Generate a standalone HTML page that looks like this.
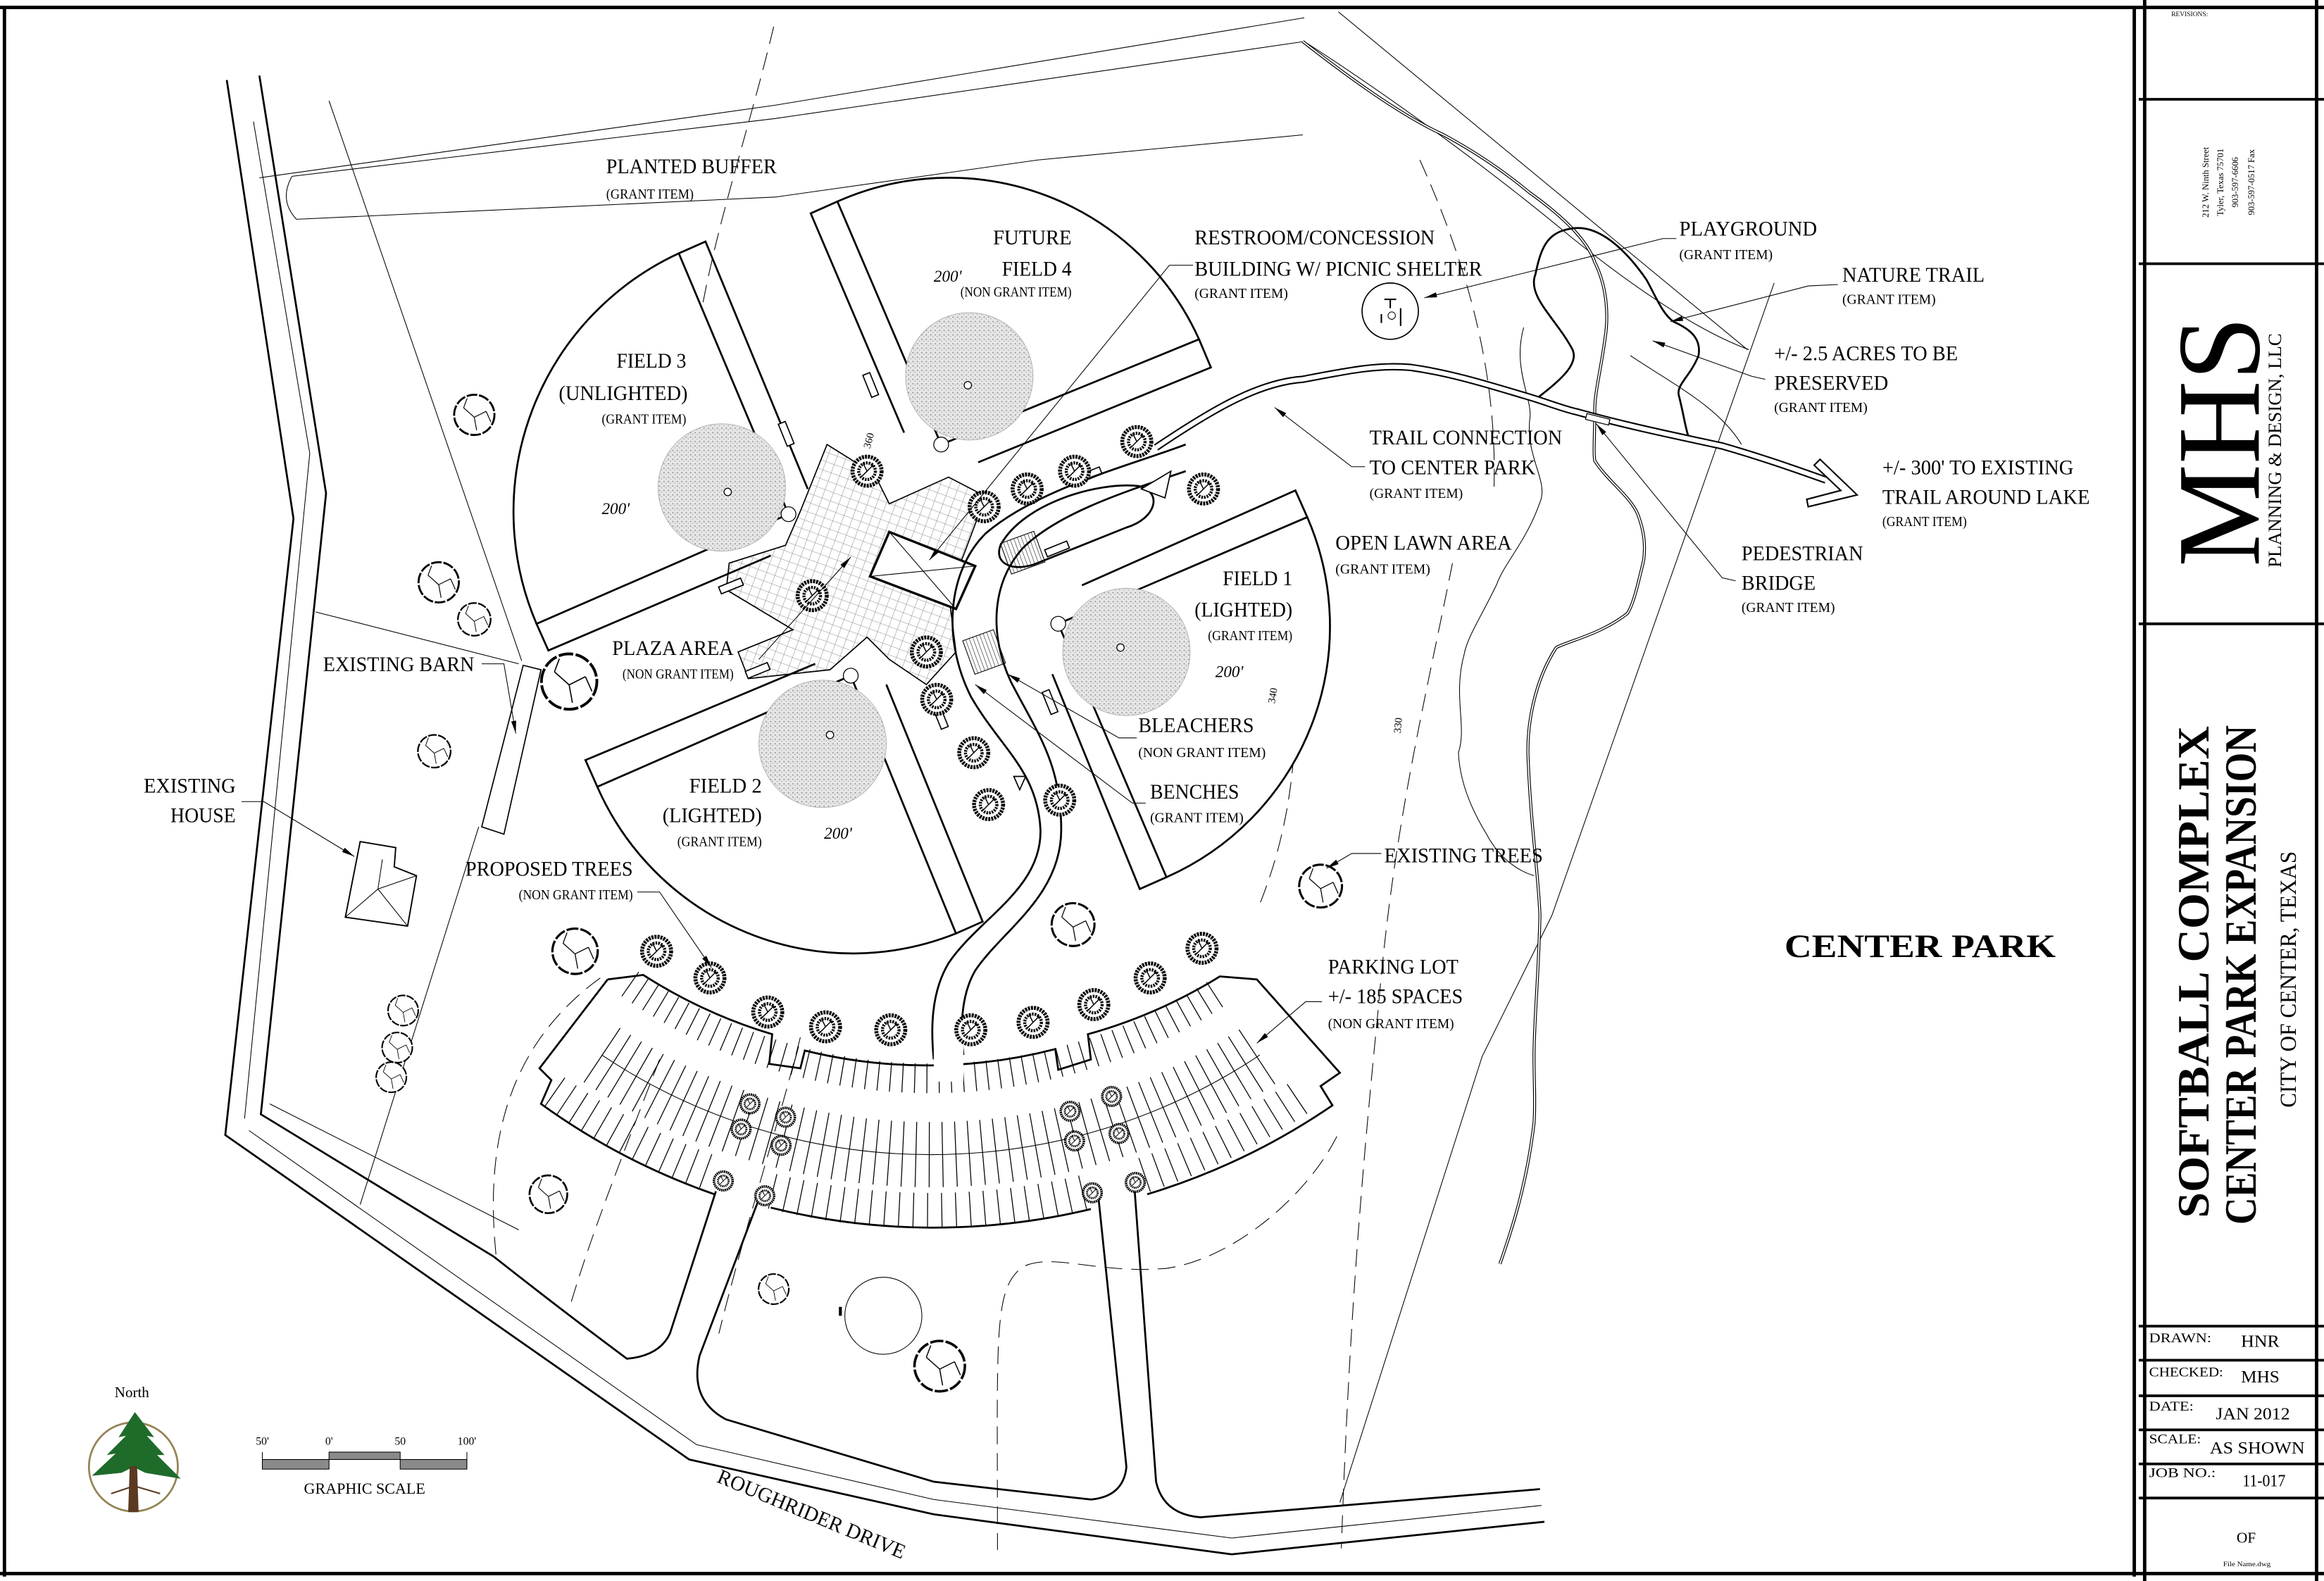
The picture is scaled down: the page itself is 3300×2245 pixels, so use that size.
<!DOCTYPE html>
<html><head><meta charset="utf-8"><style>
html,body{margin:0;padding:0;background:#fff}
svg{display:block}
text{font-family:"Liberation Serif","DejaVu Serif",serif;fill:#000}
.L{font-size:14px}
.s{font-size:9.5px}
.th{fill:none;stroke:#000;stroke-width:0.5}
.bd{fill:none;stroke:#000;stroke-width:1.3}
.ds{fill:none;stroke:#000;stroke-width:0.5;stroke-dasharray:12 6}
.ld{fill:none;stroke:#000;stroke-width:0.5;marker-end:url(#ar)}
</style></head><body>
<svg width="3300" height="2245" viewBox="0 0 1568 1067" preserveAspectRatio="none" xmlns="http://www.w3.org/2000/svg">
<defs>
<marker id="ar" viewBox="0 0 10 4" refX="10" refY="2" markerWidth="9" markerHeight="3.4" orient="auto" markerUnits="userSpaceOnUse"><path d="M0,0 L10,2 L0,4 Z" fill="#000"/></marker>
<pattern id="grid" width="6" height="6" patternUnits="userSpaceOnUse" patternTransform="rotate(20)"><rect width="6" height="6" fill="#fff"/><path d="M0,0H6M0,0V6" stroke="#888" stroke-width="0.5"/></pattern>
<pattern id="stip" width="3" height="3" patternUnits="userSpaceOnUse"><rect width="3" height="3" fill="#e6e6e6"/><circle cx="1" cy="1" r="0.45" fill="#888"/><circle cx="2.4" cy="2.2" r="0.35" fill="#999"/></pattern>
<pattern id="hat" width="2.5" height="10" patternUnits="userSpaceOnUse"><rect width="2.5" height="10" fill="#fff"/><path d="M0,0V10" stroke="#000" stroke-width="0.5"/></pattern>
<symbol id="et" viewBox="-20 -20 40 40" overflow="visible"><circle r="17" fill="#fff" stroke="#000" stroke-width="1.7" stroke-dasharray="9 1.5"/><path d="M0,2 L-9,-6 M0,2 L10,-3 M0,2 L2,13 M-9,-6 L-6,-14 M10,-3 L14,6" fill="none" stroke="#000" stroke-width="0.7"/></symbol>
<symbol id="pt" viewBox="-20 -20 40 40" overflow="visible"><circle r="14" fill="#fff" stroke="#000" stroke-width="3.8" stroke-dasharray="2 0.9"/><circle r="8" fill="none" stroke="#000" stroke-width="3" stroke-dasharray="1.6 1"/><path d="M-6,6 L0,0 L6,-6 M0,0 L-4,-8" stroke="#000" stroke-width="1" fill="none"/></symbol>
</defs>
<rect width="1568" height="1067" fill="#fff"/>

<path class="ds" d="M522,18 C505,90 480,160 470,230"/>
<path class="ds" d="M958,108 C995,190 1010,260 1008,330"/>
<path class="ds" d="M980,380 C960,480 940,560 930,680 C918,800 910,900 905,1045"/>
<path class="ds" d="M902,767 C880,810 830,850 787,856 C740,860 710,845 690,855 C670,870 673,900 673,1046"/>
<path class="ds" d="M405,660 C350,700 325,760 335,850"/>
<path class="ds" d="M445,715 C420,780 400,830 385,880"/>
<path class="ds" d="M870,420 C880,500 870,560 850,610"/>
<path class="ds" d="M540,700 C525,760 505,820 485,900"/>

<path class="bd" d="M153,54 L198,350 L152,766 L465,985 L630,1022 L831,1049 L1042,1027"/>
<path class="bd" d="M175,51 L220,333 L176,752 L333,848 Q380,885 423,917 Q445,915 452,900 L483,804"/>
<path class="bd" d="M514,804 L472,915 Q465,945 490,958 L630,1000 L736,1012 Q758,1010 760,990 L741,807"/>
<path class="bd" d="M765,796 L780,1000 Q785,1022 810,1024 L1039,1005"/>
<path class="th" d="M171,82 L209,306 L165,755"/>
<path class="th" d="M182,745 L350,830"/>
<path class="th" d="M168,763 L470,975 L630,1012 L831,1038 L1040,1016"/>
<path class="th" d="M222,68 L352,446"/>
<path class="th" d="M323,558 L243,813"/>
<path class="th" d="M175,120 L523,71 L880,12"/>
<path class="th" d="M903,8 L1179,236"/>
<path class="th" d="M1197,191 L1047,618 L1000,713 L904,1014"/>
<path class="th" d="M213,413 L350,448"/>

<path class="th" d="M197,119 L523,80 L880,28 C930,60 1000,110 1060,160 C1110,200 1150,225 1180,236 M197,119 Q188,135 200,148 L523,133 L700,108 L879,91"/>
<path class="th" d="M1028,221 C1020,250 1035,270 1032,284 C1030,310 1045,325 1039,339 C1030,365 1015,380 1010,394 C1000,415 990,430 988,441 C980,470 990,490 984,508 C985,530 995,550 1003,563 C1012,580 1025,588 1035,591"/>
<path class="th" d="M1100,240 C1130,260 1160,275 1175,300"/>

<path d="M879,28 C920,60 950,80 974,91 C1000,105 1020,120 1032,130 C1060,150 1072,165 1076,177 C1085,195 1085,215 1083,228 C1080,250 1076,265 1076,276 C1076,295 1075,305 1076,311 C1085,325 1100,335 1105,347 C1110,360 1110,370 1109,378 C1105,395 1102,408 1098,414 C1080,428 1060,432 1050,437 C1035,460 1030,490 1031,512 C1033,560 1038,590 1039,618 C1038,660 1035,690 1035,713 C1035,730 1036,745 1035,758 C1030,800 1020,830 1012,853" fill="none" stroke="#000" stroke-width="2"/>
<path d="M879,28 C920,60 950,80 974,91 C1000,105 1020,120 1032,130 C1060,150 1072,165 1076,177 C1085,195 1085,215 1083,228 C1080,250 1076,265 1076,276 C1076,295 1075,305 1076,311 C1085,325 1100,335 1105,347 C1110,360 1110,370 1109,378 C1105,395 1102,408 1098,414 C1080,428 1060,432 1050,437 C1035,460 1030,490 1031,512 C1033,560 1038,590 1039,618 C1038,660 1035,690 1035,713 C1035,730 1036,745 1035,758 C1030,800 1020,830 1012,853" fill="none" stroke="#fff" stroke-width="0.9"/>

<path class="bd" d="M1038,268 C1055,255 1065,245 1061,236 C1050,215 1030,200 1036,185 C1040,165 1045,156 1062,154 C1080,152 1098,170 1111,189 C1118,202 1122,212 1129,217 C1140,222 1148,228 1146,240 C1140,255 1130,260 1133,268 C1136,280 1137,288 1139,294"/>

<path d="M780,302 C820,275 850,258 879,256 C910,250 930,246 952,248 C980,252 1005,260 1032,268 C1045,272 1055,276 1064,278 C1100,288 1130,294 1162,301 C1190,309 1215,318 1232,324" fill="none" stroke="#000" stroke-width="5"/>
<path d="M780,302 C820,275 850,258 879,256 C910,250 930,246 952,248 C980,252 1005,260 1032,268 C1045,272 1055,276 1064,278 C1100,288 1130,294 1162,301 C1190,309 1215,318 1232,324" fill="none" stroke="#fff" stroke-width="3"/>
<path d="M1228,310 L1253,334 L1220,342 L1219,337 L1242,331 L1224,314 Z" fill="#fff" stroke="#000" stroke-width="1"/>
<rect x="1070" y="281" width="16" height="4" fill="#fff" stroke="#000" stroke-width="0.6" transform="rotate(14 1078 283)"/>

<path d="M540,345 L558,300 L590,320 L600,340 L640,322 L665,335 L650,375 L640,400 L645,440 L625,462 L600,445 L585,430 L560,452 L505,458 L498,440 L535,425 L490,398 L492,380 L530,368 Z" fill="url(#grid)" stroke="#000" stroke-width="0.8"/>

<g fill="#fff" stroke="#000" stroke-width="1.3">
<path d="M532,347 L458,171 A192,192 0 0 0 362,421 Z"/>
<path d="M635,300 L565,136 A185,185 0 0 1 809,229 Z"/>
<path d="M714,421 L882,349 A185,185 0 0 1 787,592 Z"/>
<path d="M574,456 L403,531 A188,188 0 0 0 645,630 Z"/>
</g>
<g class="bd">
<path d="M458,171 L476,163 L545,330"/>
<path d="M362,421 L370,439 L520,375"/>
<path d="M565,136 L547,144 L610,292"/>
<path d="M809,229 L817,248 L660,312"/>
<path d="M882,349 L874,331 L730,395"/>
<path d="M787,592 L769,600 L710,455"/>
<path d="M403,531 L395,513 L550,448"/>
<path d="M645,630 L663,622 L598,462"/>
</g>
<g fill="url(#stip)" stroke="#aaa" stroke-width="0.4">
<circle cx="487" cy="329" r="43"/><circle cx="654" cy="254" r="43"/><circle cx="760" cy="440" r="43"/><circle cx="555" cy="502" r="43"/>
</g>
<g fill="#fff" stroke="#000" stroke-width="0.6">
<circle cx="491" cy="332" r="2.5"/><circle cx="653" cy="260" r="2.5"/><circle cx="756" cy="437" r="2.5"/><circle cx="560" cy="496" r="2.5"/>
<circle cx="532" cy="347" r="5"/><circle cx="635" cy="300" r="5"/><circle cx="714" cy="421" r="5"/><circle cx="574" cy="456" r="5"/>
</g>

<path d="M600,359 L658,382 L645,411 L587,389 Z" fill="#fff" stroke="#000" stroke-width="1.6"/>
<path d="M600,359 L645,411 M658,382 L587,389" class="th"/>
<rect x="678" y="362" width="24" height="22" fill="url(#hat)" stroke="#000" stroke-width="0.5" transform="rotate(-20 690 373)"/>
<rect x="653" y="428" width="22" height="24" fill="url(#hat)" stroke="#000" stroke-width="0.5" transform="rotate(-20 664 440)"/>
<g fill="#fff" stroke="#000" stroke-width="0.8">
<rect x="485" y="393" width="16" height="5" transform="rotate(-22 493 395)"/>
<rect x="503" y="450" width="16" height="5" transform="rotate(-22 511 452)"/>
<rect x="528" y="285" width="5" height="16" transform="rotate(-22 530 293)"/>
<rect x="585" y="252" width="5" height="16" transform="rotate(-22 587 260)"/>
<rect x="727" y="318" width="16" height="5" transform="rotate(-22 735 320)"/>
<rect x="632" y="476" width="5" height="16" transform="rotate(-22 634 484)"/>
<rect x="706" y="466" width="5" height="16" transform="rotate(-22 708 474)"/>
<rect x="705" y="368" width="16" height="5" transform="rotate(-22 713 370)"/>
</g>

<path class="bd" d="M800,300 C760,315 700,330 665,360 C640,385 635,430 655,470 C675,505 700,520 702,560 C703,600 660,620 640,650 C628,670 628,695 630,715"/>
<path class="bd" d="M800,318 C765,330 715,345 690,370 C668,395 668,430 682,460 C700,495 716,515 716,560 C716,605 676,628 658,655 C648,672 648,695 650,712"/>
<path class="bd" d="M675,368 C690,340 740,325 768,328 C785,332 780,350 760,356 L700,380 C686,386 670,382 675,368Z"/>
<path d="M770,330 L790,318 L786,336 Z" fill="#fff" stroke="#000" stroke-width="0.8"/>
<path d="M684,524 L692,524 L688,533 Z" fill="#fff" stroke="#000" stroke-width="0.8"/>

<g fill="none" stroke="#000" stroke-width="0.5">
<path d="M425,664 A354,354 0 0 0 826,667" stroke-width="20" stroke-dasharray="0.6 7.6"/>
<path d="M406,712 A400,400 0 0 0 850,712" stroke-width="44" stroke-dasharray="0.6 8.4"/>
<path d="M406,712 A400,400 0 0 0 850,712"/>
<path d="M374,737 A443,443 0 0 0 484,793" stroke-width="24" stroke-dasharray="0.6 9"/>
<path d="M521,804 A443,443 0 0 0 735,804" stroke-width="24" stroke-dasharray="0.6 9"/>
<path d="M772,793 A443,443 0 0 0 882,737" stroke-width="24" stroke-dasharray="0.6 9"/>
</g>
<path d="M378,722 L406,705 M850,705 L878,722" stroke="#fff" stroke-width="6"/>
<path class="bd" d="M410,661 L434,658 A344,344 0 0 0 521,698 L519,718 L540,721 L543,709 A344,344 0 0 0 712,708 L714,722 L736,715 L734,698 A344,344 0 0 0 823,659 L848,661 L904,724 L891,733 L899,746 A455,455 0 0 1 774,806"/>
<path class="bd" d="M482,806 A455,455 0 0 1 365,745 L372,729 L364,721 L410,661"/>
<path class="bd" d="M520,815 A455,455 0 0 0 736,816"/>
<rect x="630" y="700" width="20" height="30" fill="#fff"/>

<circle cx="938" cy="210" r="19" fill="#fff" stroke="#000" stroke-width="0.8"/>
<path d="M934,202 h8 M938,202 v6 M932,212 v6 M945,208 v12" stroke="#000" stroke-width="1"/>
<circle cx="939" cy="213" r="2.5" class="th"/>
<circle cx="596" cy="888" r="26" class="th"/>
<rect x="566" y="882" width="2" height="6" fill="#000"/>
<path d="M325,558 L353,449 L365,452 L340,563 Z" fill="#fff" stroke="#000" stroke-width="0.8"/>
<path d="M233,619 L243,568 L267,572 L266,585 L281,591 L275,625 Z" fill="#fff" stroke="#000" stroke-width="0.9"/>
<path class="th" d="M233,619 L255,600 L275,625 M255,600 L258,580 M255,600 L281,591"/>

<g>
<use href="#et" x="304" y="264" width="32" height="32"/>
<use href="#et" x="280" y="377" width="32" height="32"/>
<use href="#et" x="307" y="405" width="26" height="26"/>
<use href="#et" x="362" y="438" width="44" height="44"/>
<use href="#et" x="280" y="494" width="26" height="26"/>
<use href="#et" x="260" y="670" width="24" height="24"/>
<use href="#et" x="256" y="695" width="24" height="24"/>
<use href="#et" x="252" y="715" width="24" height="24"/>
<use href="#et" x="370" y="624" width="36" height="36"/>
<use href="#et" x="355" y="791" width="30" height="30"/>
<use href="#et" x="510" y="858" width="24" height="24"/>
<use href="#et" x="614" y="902" width="40" height="40"/>
<use href="#et" x="707" y="607" width="34" height="34"/>
<use href="#et" x="874" y="581" width="34" height="34"/>
</g>
<g>
<use href="#pt" x="571" y="304" width="28" height="28"/>
<use href="#pt" x="650" y="328" width="28" height="28"/>
<use href="#pt" x="679" y="316" width="28" height="28"/>
<use href="#pt" x="711" y="304" width="28" height="28"/>
<use href="#pt" x="753" y="284" width="28" height="28"/>
<use href="#pt" x="798" y="316" width="28" height="28"/>
<use href="#pt" x="534" y="388" width="28" height="28"/>
<use href="#pt" x="611" y="426" width="28" height="28"/>
<use href="#pt" x="618" y="458" width="28" height="28"/>
<use href="#pt" x="643" y="494" width="28" height="28"/>
<use href="#pt" x="653" y="529" width="28" height="28"/>
<use href="#pt" x="701" y="526" width="28" height="28"/>
<use href="#pt" x="429" y="628" width="28" height="28"/>
<use href="#pt" x="465" y="646" width="28" height="28"/>
<use href="#pt" x="504" y="669" width="28" height="28"/>
<use href="#pt" x="543" y="679" width="28" height="28"/>
<use href="#pt" x="587" y="681" width="28" height="28"/>
<use href="#pt" x="641" y="681" width="28" height="28"/>
<use href="#pt" x="683" y="676" width="28" height="28"/>
<use href="#pt" x="724" y="664" width="28" height="28"/>
<use href="#pt" x="762" y="646" width="28" height="28"/>
<use href="#pt" x="797" y="626" width="28" height="28"/>
<use href="#pt" x="497" y="736" width="18" height="18"/>
<use href="#pt" x="491" y="753" width="18" height="18"/>
<use href="#pt" x="521" y="745" width="18" height="18"/>
<use href="#pt" x="518" y="764" width="18" height="18"/>
<use href="#pt" x="713" y="741" width="18" height="18"/>
<use href="#pt" x="716" y="761" width="18" height="18"/>
<use href="#pt" x="741" y="731" width="18" height="18"/>
<use href="#pt" x="746" y="756" width="18" height="18"/>
<use href="#pt" x="479" y="788" width="18" height="18"/>
<use href="#pt" x="507" y="798" width="18" height="18"/>
<use href="#pt" x="728" y="796" width="18" height="18"/>
<use href="#pt" x="757" y="789" width="18" height="18"/>
</g>

<path class="ld" d="M805,179 L789,179 L627,378"/>
<path class="ld" d="M1131,161 L1122,161 L961,201"/>
<path class="ld" d="M1240,192 L1220,193 L1127,217"/>
<path class="ld" d="M1191,256 L1182,254 L1115,230"/>
<path class="ld" d="M921,315 L912,315 L860,275"/>
<path class="ld" d="M1171,392 L1162,390 L1077,286"/>
<path class="ld" d="M932,576 L912,576 L895,586"/>
<path class="ld" d="M892,676 L881,676 L848,704"/>
<path class="ld" d="M767,498 L755,498 L680,455"/>
<path class="ld" d="M773,542 L764,542 L658,462"/>
<path class="ld" d="M512,445 L574,376"/>
<path class="ld" d="M325,448 L340,448 L348,495"/>
<path class="ld" d="M163,541 L178,541 L239,578"/>
<path class="ld" d="M430,602 L445,602 L480,653"/>

<g class="L">
<text x="409" y="117" textLength="115" lengthAdjust="spacingAndGlyphs">PLANTED BUFFER</text>
<text x="670" y="165" textLength="53" lengthAdjust="spacingAndGlyphs">FUTURE</text>
<text x="676" y="186" textLength="47" lengthAdjust="spacingAndGlyphs">FIELD 4</text>
<text x="806" y="165" textLength="162" lengthAdjust="spacingAndGlyphs">RESTROOM/CONCESSION</text>
<text x="806" y="186" textLength="194" lengthAdjust="spacingAndGlyphs">BUILDING W/ PICNIC SHELTER</text>
<text x="1133" y="159" textLength="93" lengthAdjust="spacingAndGlyphs">PLAYGROUND</text>
<text x="1243" y="190" textLength="96" lengthAdjust="spacingAndGlyphs">NATURE TRAIL</text>
<text x="1197" y="243" textLength="124" lengthAdjust="spacingAndGlyphs">+/- 2.5 ACRES TO BE</text>
<text x="1197" y="263" textLength="77" lengthAdjust="spacingAndGlyphs">PRESERVED</text>
<text x="924" y="300" textLength="130" lengthAdjust="spacingAndGlyphs">TRAIL CONNECTION</text>
<text x="924" y="320" textLength="112" lengthAdjust="spacingAndGlyphs">TO CENTER PARK</text>
<text x="1270" y="320" textLength="129" lengthAdjust="spacingAndGlyphs">+/- 300' TO EXISTING</text>
<text x="1270" y="340" textLength="140" lengthAdjust="spacingAndGlyphs">TRAIL AROUND LAKE</text>
<text x="901" y="371" textLength="119" lengthAdjust="spacingAndGlyphs">OPEN LAWN AREA</text>
<text x="1175" y="378" textLength="82" lengthAdjust="spacingAndGlyphs">PEDESTRIAN</text>
<text x="1175" y="398" textLength="50" lengthAdjust="spacingAndGlyphs">BRIDGE</text>
<text x="416" y="248" textLength="47" lengthAdjust="spacingAndGlyphs">FIELD 3</text>
<text x="377" y="270" textLength="87" lengthAdjust="spacingAndGlyphs">(UNLIGHTED)</text>
<text x="825" y="395" textLength="47" lengthAdjust="spacingAndGlyphs">FIELD 1</text>
<text x="806" y="416" textLength="66" lengthAdjust="spacingAndGlyphs">(LIGHTED)</text>
<text x="465" y="535" textLength="49" lengthAdjust="spacingAndGlyphs">FIELD 2</text>
<text x="447" y="555" textLength="67" lengthAdjust="spacingAndGlyphs">(LIGHTED)</text>
<text x="413" y="442" textLength="82" lengthAdjust="spacingAndGlyphs">PLAZA AREA</text>
<text x="218" y="453" textLength="102" lengthAdjust="spacingAndGlyphs">EXISTING BARN</text>
<text x="97" y="535" textLength="62" lengthAdjust="spacingAndGlyphs">EXISTING</text>
<text x="115" y="555" textLength="44" lengthAdjust="spacingAndGlyphs">HOUSE</text>
<text x="768" y="494" textLength="78" lengthAdjust="spacingAndGlyphs">BLEACHERS</text>
<text x="776" y="539" textLength="60" lengthAdjust="spacingAndGlyphs">BENCHES</text>
<text x="314" y="591" textLength="113" lengthAdjust="spacingAndGlyphs">PROPOSED TREES</text>
<text x="934" y="582" textLength="107" lengthAdjust="spacingAndGlyphs">EXISTING TREES</text>
<text x="896" y="657" textLength="88" lengthAdjust="spacingAndGlyphs">PARKING LOT</text>
<text x="896" y="677" textLength="91" lengthAdjust="spacingAndGlyphs">+/- 185 SPACES</text>
<text transform="translate(483,1000) rotate(22.6)" textLength="136" lengthAdjust="spacingAndGlyphs">ROUGHRIDER DRIVE</text>
</g>
<g class="s">
<text x="409" y="134" textLength="59" lengthAdjust="spacingAndGlyphs">(GRANT ITEM)</text>
<text x="648" y="200" textLength="75" lengthAdjust="spacingAndGlyphs">(NON GRANT ITEM)</text>
<text x="806" y="201" textLength="63" lengthAdjust="spacingAndGlyphs">(GRANT ITEM)</text>
<text x="1133" y="175" textLength="63" lengthAdjust="spacingAndGlyphs">(GRANT ITEM)</text>
<text x="1243" y="205" textLength="63" lengthAdjust="spacingAndGlyphs">(GRANT ITEM)</text>
<text x="1197" y="278" textLength="63" lengthAdjust="spacingAndGlyphs">(GRANT ITEM)</text>
<text x="924" y="336" textLength="63" lengthAdjust="spacingAndGlyphs">(GRANT ITEM)</text>
<text x="1270" y="355" textLength="57" lengthAdjust="spacingAndGlyphs">(GRANT ITEM)</text>
<text x="901" y="387" textLength="64" lengthAdjust="spacingAndGlyphs">(GRANT ITEM)</text>
<text x="1175" y="413" textLength="63" lengthAdjust="spacingAndGlyphs">(GRANT ITEM)</text>
<text x="406" y="286" textLength="57" lengthAdjust="spacingAndGlyphs">(GRANT ITEM)</text>
<text x="815" y="432" textLength="57" lengthAdjust="spacingAndGlyphs">(GRANT ITEM)</text>
<text x="457" y="571" textLength="57" lengthAdjust="spacingAndGlyphs">(GRANT ITEM)</text>
<text x="420" y="458" textLength="75" lengthAdjust="spacingAndGlyphs">(NON GRANT ITEM)</text>
<text x="768" y="511" textLength="86" lengthAdjust="spacingAndGlyphs">(NON GRANT ITEM)</text>
<text x="776" y="555" textLength="63" lengthAdjust="spacingAndGlyphs">(GRANT ITEM)</text>
<text x="350" y="607" textLength="77" lengthAdjust="spacingAndGlyphs">(NON GRANT ITEM)</text>
<text x="896" y="694" textLength="85" lengthAdjust="spacingAndGlyphs">(NON GRANT ITEM)</text>
</g>
<g style="font-size:11px;font-style:italic">
<text x="630" y="190">200'</text><text x="406" y="347">200'</text><text x="820" y="457">200'</text><text x="556" y="566">200'</text>
</g>
<g style="font-size:7px">
<text transform="translate(587,303) rotate(-75)">360</text>
<text transform="translate(860,475) rotate(-80)">340</text>
<text transform="translate(945,495) rotate(-85)">330</text>
</g>
<text x="1204" y="646" style="font-size:22px;font-weight:bold" textLength="183" lengthAdjust="spacingAndGlyphs">CENTER PARK</text>

<text x="89" y="943" text-anchor="middle" style="font-size:10px">North</text>
<circle cx="90" cy="990" r="30" fill="none" stroke="#958555" stroke-width="1.3"/>
<path d="M91,953 L80,970 L85,969 L72,982 L78,981 L62,996 L82,994 L90,990 L98,994 L122,998 L106,982 L111,982 L99,969 L104,970 Z" fill="#1f6b2a"/>
<path d="M88,990 L87,1020 L93,1020 L92,990 Z M90,1003 L75,1008 M91,1003 L108,1008" fill="#5a3a22" stroke="#5a3a22" stroke-width="1"/>

<g style="font-size:7.5px" text-anchor="middle"><text x="177" y="975">50'</text><text x="222" y="975">0'</text><text x="270" y="975">50</text><text x="315" y="975">100'</text></g>
<g fill="#8a8a8a" stroke="#000" stroke-width="0.5"><rect x="177" y="985" width="45" height="6.5"/><rect x="222" y="980" width="48" height="5"/><rect x="270" y="985" width="45" height="6.5"/></g>
<path d="M177,980V991 M315,980V991" stroke="#000" stroke-width="0.5"/>
<text x="246" y="1008" text-anchor="middle" style="font-size:10.5px">GRAPHIC SCALE</text>

<g stroke="#000" stroke-width="2.3" fill="none">
<path d="M0,5 H1568 M3,5 V1064 M0,1062 H1568 M1440,5 V1064 M1447,0 V1067 M1563,0 V1067"/>
<path d="M1443,67 H1568 M1443,178 H1568 M1443,421 H1568 M1443,895 H1568 M1443,918 H1568 M1443,942 H1568 M1443,965 H1568 M1443,988 H1568 M1443,1011 H1568" stroke-width="1.8"/>
</g>
<text x="1465" y="11" style="font-size:4.5px">REVISIONS:</text>
<g style="font-size:6px" text-anchor="middle">
<text transform="translate(1490,123) rotate(-90)">212 W. Ninth Street</text>
<text transform="translate(1500,123) rotate(-90)">Tyler, Texas 75701</text>
<text transform="translate(1510,123) rotate(-90)">903-597-6606</text>
<text transform="translate(1521,123) rotate(-90)">903-597-0517 Fax</text>
</g>
<text transform="translate(1524,298) rotate(-90)" text-anchor="middle" style="font-size:80px" textLength="169" lengthAdjust="spacingAndGlyphs">MHS</text>
<text transform="translate(1539,304) rotate(-90)" text-anchor="middle" style="font-size:12.5px" textLength="158" lengthAdjust="spacingAndGlyphs">PLANNING &amp; DESIGN, LLC</text>
<text transform="translate(1490,656) rotate(-90)" text-anchor="middle" style="font-size:30px;font-weight:bold" textLength="332" lengthAdjust="spacingAndGlyphs">SOFTBALL COMPLEX</text>
<text transform="translate(1522,658) rotate(-90)" text-anchor="middle" style="font-size:30px;font-weight:bold" textLength="337" lengthAdjust="spacingAndGlyphs">CENTER PARK EXPANSION</text>
<text transform="translate(1549,661) rotate(-90)" text-anchor="middle" style="font-size:15.5px" textLength="173" lengthAdjust="spacingAndGlyphs">CITY OF CENTER, TEXAS</text>
<g style="font-size:9px">
<text x="1450" y="906" textLength="42" lengthAdjust="spacingAndGlyphs">DRAWN:</text>
<text x="1450" y="929" textLength="50" lengthAdjust="spacingAndGlyphs">CHECKED:</text>
<text x="1450" y="952" textLength="30" lengthAdjust="spacingAndGlyphs">DATE:</text>
<text x="1450" y="974" textLength="35" lengthAdjust="spacingAndGlyphs">SCALE:</text>
<text x="1450" y="997" textLength="45" lengthAdjust="spacingAndGlyphs">JOB NO.:</text>
</g>
<g style="font-size:11.5px">
<text x="1512" y="909" textLength="26" lengthAdjust="spacingAndGlyphs">HNR</text>
<text x="1512" y="933" textLength="26" lengthAdjust="spacingAndGlyphs">MHS</text>
<text x="1495" y="958" textLength="50" lengthAdjust="spacingAndGlyphs">JAN 2012</text>
<text x="1491" y="981" textLength="64" lengthAdjust="spacingAndGlyphs">AS SHOWN</text>
<text x="1513" y="1003" textLength="29" lengthAdjust="spacingAndGlyphs">11-017</text>
<text x="1509" y="1041" style="font-size:10px" textLength="13" lengthAdjust="spacingAndGlyphs">OF</text>
</g>
<text x="1500" y="1057" style="font-size:4.5px" textLength="32" lengthAdjust="spacingAndGlyphs">File Name.dwg</text>
</svg>
</body></html>
